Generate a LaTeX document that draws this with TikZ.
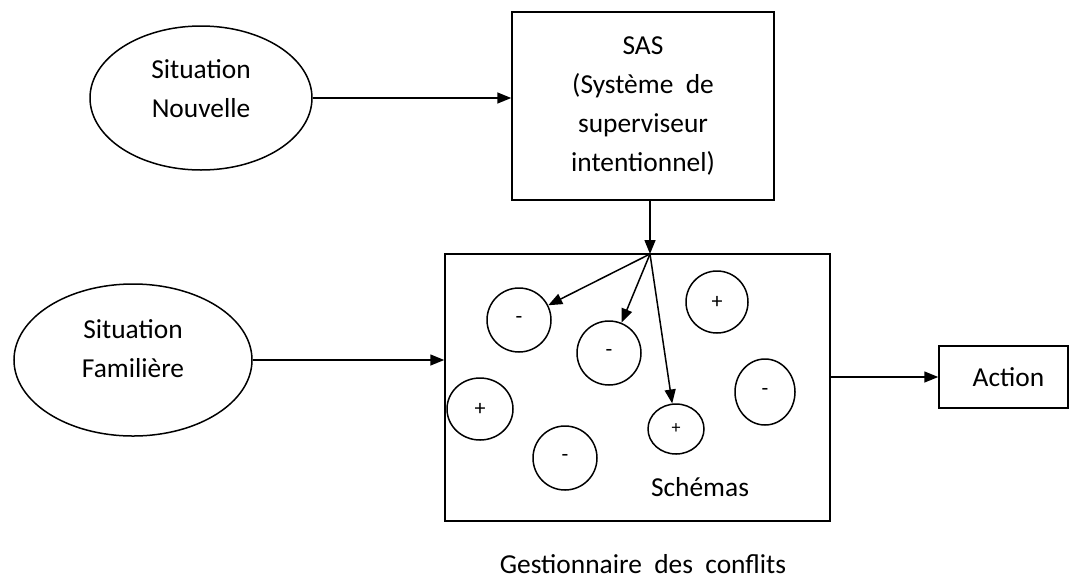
\documentclass[tikz,border=0pt]{standalone}
\usepackage{fontspec}
\setmainfont{Carlito}
\usetikzlibrary{shapes.geometric,arrows.meta}

\begin{document}
\begin{tikzpicture}
[x=0.5pt,y=-0.5pt,line width=0.75pt,
>={Triangle[length=7pt,width=5.5pt]},
txt/.style={font=\fontsize{13.7}{19.5}\selectfont,align=center,inner sep=0pt},
sit/.style={ellipse,draw,txt},
boite/.style={rectangle,draw,txt},
schema/.style={ellipse,draw,inner sep=0pt,font=\fontsize{11}{12}\selectfont}]
\useasboundingbox (0,0) rectangle (1070,579);
\node (nouv) at (201,98) [sit,minimum width=111pt,minimum height=72pt,text depth=9pt] {Situation\\Nouvelle};
\node (fam) at (133,360) [sit,minimum width=119pt,minimum height=76pt,text depth=11pt] {Situation\\Familière};
\node (sas) at (643,106) [boite,minimum width=131pt,minimum height=94pt] {SAS\\(Système \ de\\superviseur\\intentionnel)};
\node (gest) at (637.5,387.5) [boite,minimum width=192.5pt,minimum height=133.5pt] {};
\node (act) at (1003.5,377) [boite,minimum width=64.5pt,minimum height=31pt] {\hspace{5pt}Action};
\coordinate (hub) at (650,254);
\node (cA) at (519,320) [schema,minimum width=32pt,minimum height=32pt] {-};
\node (cB) at (609,353) [schema,minimum width=32pt,minimum height=32pt] {-};
\node (cC) at (717,302) [schema,minimum width=31pt,minimum height=31pt] {+};
\node (cD) at (480,409) [schema,minimum width=33pt,minimum height=31pt] {+};
\node (cE) at (565,458) [schema,minimum width=32pt,minimum height=32pt] {-};
\node (cF) at (676,429) [schema,minimum width=28pt,minimum height=25pt,font=\fontsize{9}{10}\selectfont] {+};
\node (cG) at (765,392) [schema,minimum width=30pt,minimum height=33pt] {-};
\node (lsch) at (700,487) [txt] {Schémas};
\node (lgest) at (643,564) [txt] {Gestionnaire \ des \ conflits};
\draw[->] (nouv.east) -- (nouv.east -| sas.west);
\draw[->] (fam.east) -- (fam.east -| gest.west);
\draw[->] (sas.south -| hub) -- (hub);
\draw[->] (hub) -- (cA);
\draw[->] (hub) -- (cB);
\draw[->] (hub) -- (cF);
\draw[->] (gest.east |- act) -- (act.west);
\end{tikzpicture}
\end{document}
